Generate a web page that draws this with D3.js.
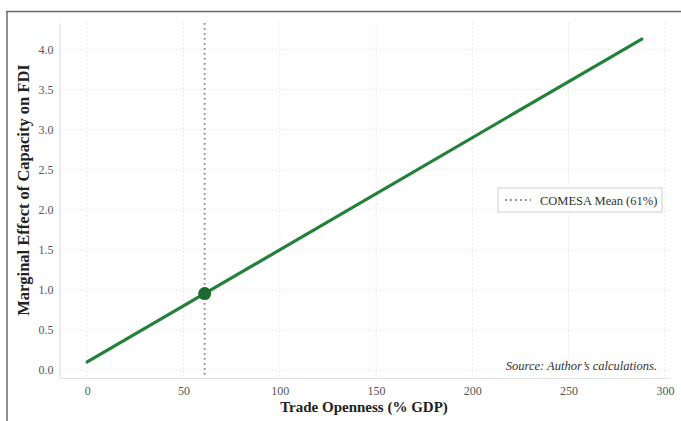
<!DOCTYPE html>
<html>
<head>
<meta charset="utf-8">
<script src="https://cdn.jsdelivr.net/npm/d3@7"></script>
<style>
  html, body { margin: 0; padding: 0; background: #fff; }
  svg { display: block; font-family: "Liberation Serif", "Times New Roman", serif; }
</style>
</head>
<body>
<svg id="chart" width="681" height="421"></svg>
<script>
// Marginal effect of capacity on FDI across trade openness
const opennessValues = [0, 288];
const effectValues = [0.10, 4.13];
const meanOpenness = [61];
const meanEffect = [0.954];
const xTickValues = [0, 50, 100, 150, 200, 250, 300];
const yTickValues = [0.0, 0.5, 1.0, 1.5, 2.0, 2.5, 3.0, 3.5, 4.0];
const legendLabel = "COMESA Mean (61%)";
const sourceNote = "Source: Author’s calculations.";
const xTitle = "Trade Openness (% GDP)";
const yTitle = "Marginal Effect of Capacity on FDI";

const svg = d3.select("#chart");

// outer frame
svg.append("line").attr("x1", 6).attr("x2", 681).attr("y1", 11.5).attr("y2", 11.5)
  .attr("stroke", "#6a6a6a").attr("stroke-width", 1.5);
svg.append("line").attr("x1", 7).attr("x2", 7).attr("y1", 11).attr("y2", 421)
  .attr("stroke", "#6a6a6a").attr("stroke-width", 1.5);

const plot = { left: 59.5, right: 669.5, top: 23, bottom: 378 };

const x = d3.scaleLinear().domain([-14.4, 302.4]).range([plot.left, plot.right]);
const y = d3.scaleLinear().domain([-0.1, 4.33]).range([plot.bottom, plot.top]);

const g = svg.append("g");

// grid
g.selectAll("line.vgrid").data(xTickValues).join("line")
  .attr("class", "vgrid")
  .attr("x1", d => x(d)).attr("x2", d => x(d))
  .attr("y1", plot.top).attr("y2", plot.bottom)
  .attr("stroke", "#e2e2e2").attr("stroke-width", 1).attr("stroke-dasharray", "1.5,2.5");
g.selectAll("line.hgrid").data(yTickValues).join("line")
  .attr("class", "hgrid")
  .attr("x1", plot.left).attr("x2", plot.right)
  .attr("y1", d => y(d)).attr("y2", d => y(d))
  .attr("stroke", "#e2e2e2").attr("stroke-width", 1).attr("stroke-dasharray", "1.5,2.5");

// axes
const xAxis = d3.axisBottom(x).tickValues(xTickValues).tickSize(0).tickPadding(8)
  .tickFormat(d3.format("d"));
const yAxis = d3.axisLeft(y).tickValues(yTickValues).tickSize(0).tickPadding(6)
  .tickFormat(d3.format(".1f"));

const gx = g.append("g").attr("transform", `translate(0,${plot.bottom})`).call(xAxis);
const gy = g.append("g").attr("transform", `translate(${plot.left},0)`).call(yAxis);
[gx, gy].forEach(a => {
  a.select(".domain").attr("stroke", "#dde2e2").attr("stroke-width", 1.2);
  a.selectAll("text").attr("fill", "#555").style("font-size", "12px")
    .style("font-family", "'Liberation Serif', serif");
});

// mean reference line
g.append("line")
  .attr("x1", x(meanOpenness[0])).attr("x2", x(meanOpenness[0]))
  .attr("y1", plot.top).attr("y2", plot.bottom)
  .attr("stroke", "#8a8a8a").attr("stroke-width", 1.8).attr("stroke-dasharray", "1.8,3.2");

// marginal effect line
const pts = opennessValues.map((v, i) => [v, effectValues[i]]);
g.append("path").datum(pts)
  .attr("d", d3.line().x(d => x(d[0])).y(d => y(d[1])))
  .attr("fill", "none").attr("stroke", "#23813a").attr("stroke-width", 3.2)
  .attr("stroke-linecap", "round");

// point at the mean
g.selectAll("circle.mean").data(meanOpenness).join("circle")
  .attr("class", "mean")
  .attr("cx", d => x(d)).attr("cy", (d, i) => y(meanEffect[i]))
  .attr("r", 6.5).attr("fill", "#1d6a30");

// legend
const lg = g.append("g").attr("transform", "translate(498,188)");
lg.append("rect").attr("width", 164).attr("height", 24)
  .attr("fill", "#fff").attr("stroke", "#cfcfcf").attr("stroke-width", 1);
lg.append("line").attr("x1", 7).attr("x2", 33).attr("y1", 12).attr("y2", 12)
  .attr("stroke", "#8a8a8a").attr("stroke-width", 1.8).attr("stroke-dasharray", "1.8,3.2");
lg.append("text").attr("x", 42).attr("y", 16.5).text(legendLabel)
  .attr("fill", "#333").style("font-size", "12.5px");

// source note
g.append("text").attr("x", 657).attr("y", 370).attr("text-anchor", "end")
  .text(sourceNote).attr("fill", "#333")
  .style("font-size", "12.5px").style("font-style", "italic");

// axis titles
svg.append("text").attr("x", 364).attr("y", 412).attr("text-anchor", "middle")
  .text(xTitle).attr("fill", "#222").style("font-size", "15px").style("font-weight", "bold");
svg.append("text").attr("transform", "translate(29,190) rotate(-90)")
  .attr("text-anchor", "middle").text(yTitle).attr("fill", "#222")
  .style("font-size", "16.5px").style("font-weight", "bold");
</script>
</body>
</html>
